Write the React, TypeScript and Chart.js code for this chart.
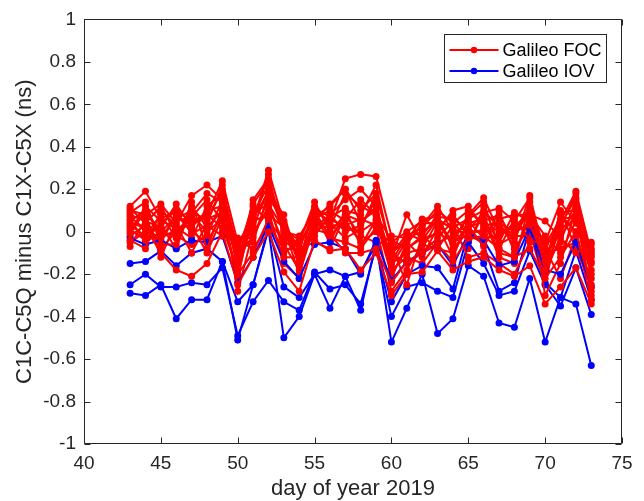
import { useEffect, useRef } from "react";
import { Chart, registerables } from "chart.js";

Chart.register(...registerables);

const days = [43, 44, 45, 46, 47, 48, 49, 50, 51, 52, 53, 54, 55, 56, 57, 58, 59, 60, 61, 62, 63, 64, 65, 66, 67, 68, 69, 70, 71, 72, 73];

const xTickValues = [40, 45, 50, 55, 60, 65, 70, 75];
const xTickLabels = ["40", "45", "50", "55", "60", "65", "70", "75"];
const yTickValues = [-1, -0.8, -0.6, -0.4, -0.2, 0, 0.2, 0.4, 0.6, 0.8, 1];
const yTickLabels = ["-1", "-0.8", "-0.6", "-0.4", "-0.2", "0", "0.2", "0.4", "0.6", "0.8", "1"];

// Galileo FOC satellites
const foc01 = [0.12, 0.19, 0.06, 0.10, 0.05, 0.08, 0.24, -0.05, 0.05, 0.29, 0.04, -0.08, 0.10, 0.05, 0.25, 0.27, 0.26, -0.02, -0.03, 0.00, 0.05, 0.02, 0.06, 0.10, 0.02, -0.01, 0.12, -0.08, 0.05, 0.19, -0.10];
const foc02 = [0.10, 0.08, 0.13, 0.04, 0.17, 0.22, 0.15, -0.10, 0.02, 0.20, 0.00, -0.12, 0.05, 0.13, 0.20, 0.10, 0.18, -0.08, -0.05, 0.03, 0.12, 0.00, 0.02, 0.05, 0.08, -0.05, 0.17, -0.12, 0.00, 0.10, -0.15];
const foc03 = [0.08, 0.05, 0.02, 0.13, 0.02, 0.10, 0.12, -0.15, 0.15, 0.25, -0.02, -0.05, 0.14, 0.00, 0.08, 0.05, 0.10, -0.12, 0.08, -0.05, 0.00, 0.10, 0.12, 0.02, -0.05, 0.09, 0.05, -0.05, 0.14, 0.04, -0.08];
const foc04 = [0.05, 0.10, -0.02, 0.06, 0.10, 0.05, 0.20, -0.08, -0.05, 0.18, 0.08, -0.15, 0.02, 0.08, 0.15, 0.20, 0.12, -0.15, -0.10, -0.08, 0.05, -0.05, 0.08, 0.16, 0.00, 0.02, 0.10, -0.15, -0.05, 0.15, -0.12];
const foc05 = [0.03, -0.02, 0.08, -0.03, 0.08, 0.00, 0.06, -0.20, 0.08, 0.22, 0.05, -0.10, 0.00, 0.06, 0.02, 0.00, 0.05, -0.20, -0.08, -0.02, 0.08, -0.08, 0.00, 0.00, 0.05, -0.08, 0.02, -0.20, -0.02, 0.08, -0.18];
const foc07 = [0.00, 0.12, 0.05, 0.02, -0.03, 0.12, 0.18, -0.12, -0.02, 0.12, -0.06, -0.18, 0.08, -0.05, 0.10, 0.08, 0.22, -0.10, -0.15, -0.10, -0.03, 0.05, -0.05, 0.08, -0.10, -0.12, 0.08, -0.02, -0.10, 0.05, -0.20];
const foc08 = [-0.02, 0.03, -0.05, 0.08, 0.00, -0.05, 0.08, -0.22, 0.10, 0.15, -0.10, -0.05, 0.06, 0.10, 0.05, -0.05, 0.00, -0.05, 0.00, 0.05, 0.03, -0.12, 0.05, -0.03, -0.02, 0.04, 0.00, -0.25, 0.08, 0.00, -0.05];
const foc09 = [-0.05, 0.00, 0.03, -0.08, 0.12, 0.02, 0.10, -0.06, 0.05, 0.08, 0.02, -0.20, 0.03, 0.02, 0.18, 0.12, 0.08, -0.18, -0.12, -0.15, -0.05, -0.02, -0.08, 0.12, -0.06, -0.02, -0.02, -0.10, -0.08, -0.05, -0.22];
const foc13 = [-0.07, 0.06, -0.08, 0.00, 0.04, 0.08, 0.02, -0.18, 0.12, 0.05, -0.04, -0.10, -0.02, 0.08, 0.00, 0.03, 0.15, -0.22, -0.05, -0.12, 0.02, 0.08, -0.02, -0.05, 0.10, -0.10, 0.06, -0.18, 0.10, -0.08, -0.25];
const foc14 = [0.06, -0.05, 0.00, -0.02, -0.06, -0.02, 0.15, -0.28, 0.00, 0.10, -0.15, -0.22, 0.10, -0.03, -0.05, -0.08, 0.02, -0.28, -0.18, -0.06, -0.08, -0.10, 0.04, 0.06, -0.12, -0.15, 0.14, -0.30, -0.15, 0.12, -0.30];
const foc15 = [0.02, 0.08, -0.12, 0.05, 0.07, 0.15, 0.05, -0.04, -0.08, 0.03, -0.08, -0.08, -0.05, -0.08, 0.08, -0.02, -0.05, -0.06, -0.25, -0.02, -0.08, 0.03, -0.12, -0.10, -0.15, -0.20, -0.05, -0.08, -0.22, -0.02, -0.32];
const foc21 = [0.04, 0.02, -0.10, -0.18, -0.21, -0.15, 0.00, -0.25, -0.12, 0.00, -0.19, -0.28, -0.04, -0.09, -0.08, -0.18, -0.10, -0.30, -0.20, -0.19, -0.09, -0.18, -0.14, -0.12, -0.18, -0.21, -0.16, -0.34, -0.26, -0.17, -0.34];
const foc24 = [-0.04, -0.08, 0.10, 0.03, -0.10, 0.04, 0.22, -0.14, 0.06, 0.19, 0.03, -0.14, 0.12, 0.03, 0.03, 0.06, 0.03, -0.14, -0.02, 0.02, 0.10, 0.04, 0.10, 0.03, 0.04, 0.00, 0.03, -0.12, 0.03, 0.16, -0.14];
const foc25 = [0.09, 0.14, -0.06, -0.06, 0.14, -0.08, 0.11, -0.10, 0.13, 0.24, 0.00, -0.02, 0.09, -0.02, 0.06, 0.15, 0.08, -0.04, -0.08, -0.03, -0.01, -0.04, 0.07, 0.14, -0.08, 0.06, -0.04, -0.06, 0.06, 0.07, -0.28];
const foc26 = [0.01, -0.04, 0.04, 0.10, -0.01, 0.03, -0.02, -0.03, -0.03, 0.16, 0.05, -0.16, 0.04, 0.04, -0.03, 0.01, 0.18, -0.09, -0.06, 0.04, 0.04, -0.06, 0.03, -0.07, 0.06, 0.08, 0.08, 0.05, -0.03, -0.10, -0.06];
const foc27 = [0.11, 0.04, 0.12, -0.01, 0.09, 0.18, 0.14, -0.17, 0.04, 0.27, -0.03, -0.07, 0.07, 0.12, 0.20, 0.04, 0.12, -0.16, -0.04, 0.06, 0.07, 0.06, 0.01, 0.09, 0.11, 0.05, 0.16, -0.18, 0.02, 0.18, -0.11];
const foc30 = [-0.01, 0.10, 0.00, 0.07, 0.03, -0.10, 0.07, -0.20, -0.10, 0.06, -0.12, -0.12, 0.01, -0.01, -0.10, -0.10, -0.08, -0.24, -0.14, -0.10, -0.06, -0.14, -0.03, -0.02, -0.08, -0.12, -0.08, -0.22, -0.12, 0.00, -0.26];
const foc31 = [0.07, 0.01, -0.03, 0.01, 0.06, 0.06, 0.09, -0.07, 0.09, 0.13, 0.01, -0.04, 0.11, 0.07, 0.11, -0.07, 0.06, -0.11, -0.01, -0.04, 0.06, 0.01, -0.01, 0.01, 0.01, -0.03, 0.11, -0.14, 0.09, 0.10, -0.09];

// Galileo IOV satellites
const iov11 = [-0.15, -0.14, -0.09, -0.16, -0.10, -0.08, -0.14, -0.33, -0.25, 0.02, -0.26, -0.31, -0.20, -0.18, -0.21, -0.19, -0.06, -0.33, -0.20, -0.16, -0.17, -0.27, 0.00, -0.06, -0.28, -0.24, 0.02, -0.24, -0.31, -0.09, -0.32];
const iov12 = [-0.25, -0.20, -0.26, -0.26, -0.24, -0.25, -0.17, -0.49, -0.33, -0.23, -0.33, -0.37, -0.19, -0.27, -0.25, -0.34, -0.07, -0.40, -0.26, -0.24, -0.28, -0.31, -0.05, -0.15, -0.30, -0.28, -0.09, -0.25, -0.35, -0.17, -0.39];
const iov19 = [-0.29, -0.30, -0.25, -0.41, -0.32, -0.32, -0.14, -0.51, -0.25, 0.01, -0.50, -0.40, -0.20, -0.36, -0.21, -0.37, -0.05, -0.52, -0.36, -0.20, -0.48, -0.41, -0.16, -0.21, -0.43, -0.45, -0.22, -0.52, -0.31, -0.34, -0.63];
const iov20 = [-0.03, -0.06, -0.04, -0.08, -0.04, -0.05, -0.02, -0.24, -0.12, 0.03, -0.14, -0.22, -0.06, -0.05, -0.08, -0.20, -0.04, -0.23, -0.14, -0.10, -0.06, -0.16, -0.01, -0.04, -0.16, -0.14, 0.02, -0.18, -0.20, -0.05, -0.26];

const FOC = "Galileo FOC";
const IOV = "Galileo IOV";
const RED = "#ff0000";
const BLUE = "#0000ff";

// plotting order (later on top)
const seriesList: { group: string; values: number[] }[] = [
  { group: FOC, values: foc01 },
  { group: FOC, values: foc02 },
  { group: FOC, values: foc03 },
  { group: FOC, values: foc04 },
  { group: FOC, values: foc05 },
  { group: FOC, values: foc07 },
  { group: FOC, values: foc08 },
  { group: FOC, values: foc09 },
  { group: IOV, values: iov11 },
  { group: IOV, values: iov12 },
  { group: FOC, values: foc13 },
  { group: FOC, values: foc14 },
  { group: FOC, values: foc15 },
  { group: IOV, values: iov19 },
  { group: IOV, values: iov20 },
  { group: FOC, values: foc21 },
  { group: FOC, values: foc24 },
  { group: FOC, values: foc25 },
  { group: FOC, values: foc26 },
  { group: FOC, values: foc27 },
  { group: FOC, values: foc30 },
  { group: FOC, values: foc31 },
];

const legendItems = [
  { label: FOC, color: RED },
  { label: IOV, color: BLUE },
];

const FONT = "'Liberation Sans', Arial, Helvetica, sans-serif";
const AXIS_COLOR = "#262626";

const framePlugin = {
  id: "matlabFrame",
  afterDraw(chart: any) {
    const { ctx, chartArea: a, scales } = chart;
    ctx.save();
    const L = Math.round(a.left) + 0.5;
    const R = Math.round(a.right) - 0.5;
    const T = Math.round(a.top) + 0.5;
    const B = Math.round(a.bottom) - 0.5;
    ctx.strokeStyle = AXIS_COLOR;
    ctx.lineWidth = 1;
    ctx.beginPath();
    ctx.rect(L, T, R - L, B - T);
    ctx.stroke();
    const tl = 6;
    ctx.beginPath();
    xTickValues.forEach((v) => {
      const x = Math.round(scales.x.getPixelForValue(v)) + 0.5;
      ctx.moveTo(x, B);
      ctx.lineTo(x, B - tl);
      ctx.moveTo(x, T);
      ctx.lineTo(x, T + tl);
    });
    yTickValues.forEach((v) => {
      const y = Math.round(scales.y.getPixelForValue(v)) + 0.5;
      ctx.moveTo(L, y);
      ctx.lineTo(L + tl, y);
      ctx.moveTo(R, y);
      ctx.lineTo(R - tl, y);
    });
    ctx.stroke();

    // legend
    const bw = 162;
    const bh = 48;
    const bx = Math.round(a.right) - 16 - bw + 0.5;
    const by = Math.round(a.top) + 15 + 0.5;
    ctx.fillStyle = "#ffffff";
    ctx.fillRect(bx, by, bw, bh);
    ctx.strokeStyle = AXIS_COLOR;
    ctx.lineWidth = 1;
    ctx.strokeRect(bx, by, bw, bh);
    legendItems.forEach((it, i) => {
      const cy = by + 15.5 + i * 21;
      ctx.strokeStyle = it.color;
      ctx.lineWidth = 2;
      ctx.beginPath();
      ctx.moveTo(bx + 5, cy);
      ctx.lineTo(bx + 54, cy);
      ctx.stroke();
      ctx.fillStyle = it.color;
      ctx.beginPath();
      ctx.arc(bx + 29.5, cy, 3.2, 0, Math.PI * 2);
      ctx.fill();
      ctx.fillStyle = "#000000";
      ctx.font = `18px ${FONT}`;
      ctx.textBaseline = "middle";
      ctx.textAlign = "left";
      ctx.fillText(it.label, bx + 58, cy + 1);
    });
    ctx.restore();
  },
};

export default function App() {
  const canvasRef = useRef<HTMLCanvasElement | null>(null);

  useEffect(() => {
    document.body.style.margin = "0";
    const canvas = canvasRef.current;
    if (!canvas) return;
    const datasets = seriesList.map((s, i) => {
      const color = s.group === FOC ? RED : BLUE;
      return {
        label: s.group,
        data: days.map((d, j) => ({ x: d, y: s.values[j] })),
        borderColor: color,
        backgroundColor: color,
        borderWidth: 2,
        pointRadius: 3.5,
        pointBorderWidth: 0,
        pointBackgroundColor: color,
        pointHoverRadius: 3.5,
        tension: 0,
        order: -i,
      };
    });
    const chart = new Chart(canvas, {
      type: "line",
      data: { datasets },
      options: {
        responsive: false,
        animation: false,
        devicePixelRatio: 1,
        layout: { padding: { left: 0, top: 19, right: 22, bottom: 0 } },
        plugins: {
          legend: { display: false },
          tooltip: { enabled: false },
        },
        scales: {
          x: {
            type: "linear",
            min: 40,
            max: 75,
            afterBuildTicks: (s: any) => {
              s.ticks = xTickValues.map((v) => ({ value: v }));
            },
            afterFit: (s: any) => {
              s.height = 57;
            },
            grid: { display: false, drawTicks: false },
            border: { display: false },
            ticks: {
              autoSkip: false,
              maxRotation: 0,
              padding: 8,
              color: AXIS_COLOR,
              font: { family: FONT, size: 19 },
              callback: (_v: any, i: number) => xTickLabels[i],
            },
            title: {
              display: true,
              text: "day of year 2019",
              color: AXIS_COLOR,
              font: { family: FONT, size: 22, lineHeight: 1.1 },
              padding: { top: 0, bottom: 0 },
            },
          },
          y: {
            type: "linear",
            min: -1,
            max: 1,
            afterBuildTicks: (s: any) => {
              s.ticks = yTickValues.map((v) => ({ value: v }));
            },
            afterFit: (s: any) => {
              s.width = 84;
            },
            grid: { display: false, drawTicks: false },
            border: { display: false },
            ticks: {
              autoSkip: false,
              padding: 8,
              color: AXIS_COLOR,
              font: { family: FONT, size: 19 },
              callback: (_v: any, i: number) => yTickLabels[i],
            },
            title: {
              display: true,
              text: "C1C-C5Q minus C1X-C5X (ns)",
              color: AXIS_COLOR,
              font: { family: FONT, size: 22, lineHeight: 1.2 },
              padding: { top: 12, bottom: 0 },
            },
          },
        },
      },
      plugins: [framePlugin],
    });
    return () => {
      chart.destroy();
    };
  }, []);

  return (
    <div style={{ width: 644, height: 501, background: "#ffffff" }}>
      <canvas ref={canvasRef} width={644} height={501} style={{ display: "block" }} />
    </div>
  );
}
